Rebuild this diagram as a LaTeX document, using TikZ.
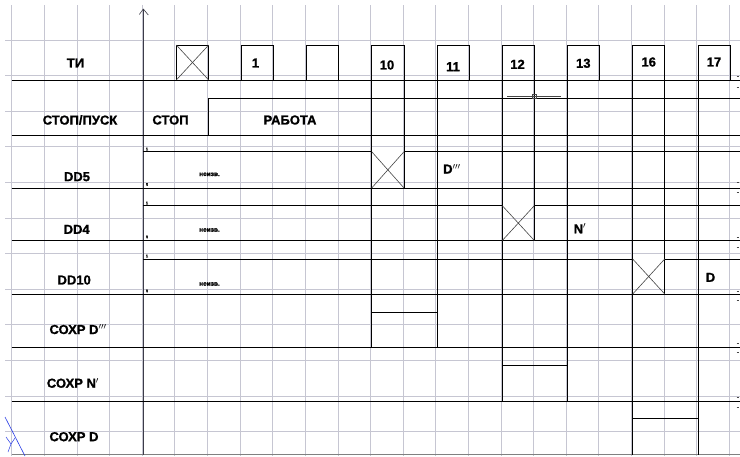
\documentclass[tikz,border=0pt]{standalone}
\usepackage{fontspec}
\setmainfont{Liberation Sans}[BoldFeatures={FakeBold=1.2}]
\definecolor{gridc}{RGB}{198,198,210}
\definecolor{axisc}{RGB}{60,60,72}
\definecolor{ucsc}{RGB}{40,60,230}
\definecolor{xc}{RGB}{70,70,70}
\begin{document}
\begin{tikzpicture}[x=1pt,y=-1pt,
  sig/.style={line width=0.9pt, black},
  xline/.style={line width=0.6pt, xc},
  gridline/.style={gridc, line width=0.8pt},
  lbl/.style={font=\fontsize{13}{13}\selectfont\bfseries, inner sep=0pt},
  smalltxt/.style={font=\fontsize{6.5}{6.5}\selectfont\bfseries, inner sep=0pt},
  tinytxt/.style={font=\fontsize{4}{4}\selectfont\bfseries, inner sep=0pt}]
\useasboundingbox (0,0) rectangle (740,456);
\fill[white] (0,0) rectangle (740,456);
% grid
\foreach \k in {0,...,22} \draw[gridline] ({11.7+32.62*\k},5) -- ({11.7+32.62*\k},456);
\foreach \j in {1,...,12} \draw[gridline] (5,{4.4+35.6*\j}) -- (740,{4.4+35.6*\j});
\draw[gray, line width=1.5pt] (11.7,454.5) -- (740,454.5);
% axis
\draw[axisc, line width=0.9pt] (143.3,9) -- (143.3,455);
\draw[axisc, line width=0.6pt] (139.3,14.5) -- (143.3,9) -- (148.3,15);
% row separators
\foreach \y in {80,135,188,240.5,294,347.3,401} \draw[sig] (11.7,\y) -- (740,\y);
% clock pulses
\foreach \a/\b in {176.3/208.7, 241.5/273.3, 306.7/338.3, 371.7/404, 437.3/469.3, 502.3/534.3, 567.3/599.3, 632.7/664.7, 698.3/730.3}
  \draw[sig] (\a,80) -- (\a,45) -- (\b,45) -- (\b,80);
\draw[xline] (176.3,45) -- (208.7,80) (176.3,80) -- (208.7,45);
% extension lines
\draw[sig] (371.7,80) -- (371.7,347.3);
\draw[sig] (404,80) -- (404,188);
\draw[sig] (437.3,80) -- (437.3,347.3);
\draw[sig] (502.3,80) -- (502.3,401);
\draw[sig] (534.3,80) -- (534.3,240.5);
\draw[sig] (567.3,80) -- (567.3,401);
\draw[sig] (632.7,80) -- (632.7,454.5);
\draw[sig] (664.7,80) -- (664.7,294);
\draw[sig] (698.3,80) -- (698.3,454.5);
% STOP/START
\draw[sig] (208.7,135) -- (208.7,98.3) -- (740,98.3);
\draw[line width=0.6pt, xc] (507,96.3) -- (561,96.3);
\draw[line width=0.6pt, xc] (532.3,94.3) rectangle (536.3,98.3);
% DD5
\draw[sig] (143.3,151.7) -- (371.7,151.7) (404,151.7) -- (740,151.7);
\draw[xline] (371.7,151.7) -- (404,188) (371.7,188) -- (404,151.7);
% DD4
\draw[sig] (143.3,205.7) -- (502.3,205.7) (534.3,205.7) -- (740,205.7);
\draw[xline] (502.3,205.7) -- (534.3,240.5) (502.3,240.5) -- (534.3,205.7);
% DD10
\draw[sig] (143.3,259) -- (632.7,259) (664.7,259) -- (740,259);
\draw[xline] (632.7,259) -- (664.7,294) (632.7,294) -- (664.7,259);
% store pulses
\draw[sig] (371.7,312.3) -- (437.3,312.3);
\draw[sig] (502.3,365.7) -- (567.3,365.7);
\draw[sig] (632.7,418.3) -- (698.3,418.3);
% right-edge marks
\foreach \y in {76,87,182,192,237,247,291,300,343,352,397,407}
  \draw[xc, line width=0.6pt] (736.5,\y) -- (739,\y);
% UCS icon
\draw[ucsc, line width=0.6pt] (5,417) -- (25,456);
\draw[ucsc, line width=0.5pt] (6,437) -- (11,444) -- (15,438) (11,444) -- (8,452);
% row labels
\node[lbl] (ti) at (75.5,63) {ТИ};
\node[lbl] (sp) at (80,120) {СТОП/ПУСК};
\node[lbl] (stop) at (170.5,120) {СТОП};
\node[lbl] (rab) at (290,120) {РАБОТА};
\node[lbl] (dd5) at (77,176.7) {DD5};
\node[lbl] (dd4) at (76.7,229.3) {DD4};
\node[lbl] (dd10) at (74.2,280) {DD10};
\node[lbl, anchor=base west] (sd3) at (49.3,334) {СОХР D$^{\prime\prime\prime}$};
\node[lbl, anchor=base west] (sn1) at (46.7,387.7) {СОХР N$^{\prime}$};
\node[lbl] (sd) at (74,436.7) {СОХР D};
% pulse numbers
\node[lbl] (p1) at (255.5,63) {1};
\node[lbl] (p10) at (387,65) {10};
\node[lbl] (p11) at (453,66.7) {11};
\node[lbl] (p12) at (517.5,64.3) {12};
\node[lbl] (p13) at (583.3,63.3) {13};
\node[lbl] (p16) at (648.7,62) {16};
\node[lbl] (p17) at (714,62) {17};
% unknown states
\node[smalltxt] (u5) at (209.5,174.3) {неизв.};
\node[smalltxt] (u4) at (209.5,230) {неизв.};
\node[smalltxt] (u10) at (209.5,284) {неизв.};
% level marks
\node[tinytxt] (h5) at (147,149) {1};
\node[tinytxt] (l5) at (147,184.5) {0};
\node[tinytxt] (h4) at (147,203) {1};
\node[tinytxt] (l4) at (147,237) {0};
\node[tinytxt] (h10) at (147,256) {1};
\node[tinytxt] (l10) at (147,291) {0};
% values
\node[lbl, anchor=base west] (vd3) at (443,173.5) {D$^{\prime\prime\prime}$};
\node[lbl, anchor=base west] (vn) at (573.5,233.3) {N$^{\prime}$};
\node[lbl] (vd) at (710.5,277.3) {D};
\end{tikzpicture}
\end{document}
